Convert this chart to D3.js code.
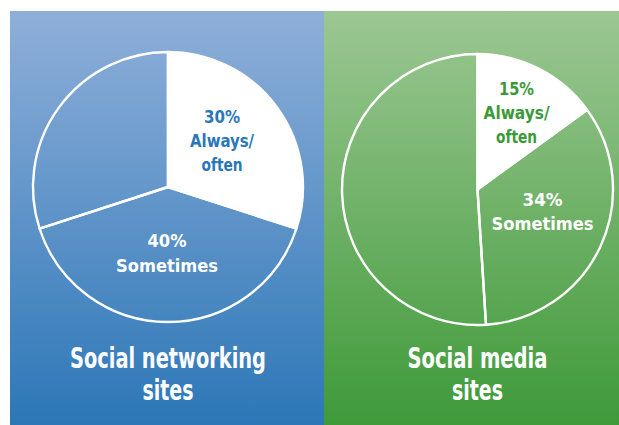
<!DOCTYPE html>
<html><head><meta charset="utf-8">
<script src="https://cdn.jsdelivr.net/npm/d3@7"></script>
<style>html,body{margin:0;padding:0;background:#fff;}svg{display:block;}</style>
</head><body>
<svg id="chart" width="619" height="425"></svg>
<script>
// ---- data ----
const titles = [["Social networking", "sites"], ["Social media", "sites"]];
const categories = ["Always/often", "Sometimes", "Rarely/never"];
const networkingValues = [30, 40, 30];
const mediaValues = [15, 34, 51];
const alwaysLabels = [["30%", "Always/", "often"], ["15%", "Always/", "often"]];
const sometimesLabels = [["40%", "Sometimes"], ["34%", "Sometimes"]];

// ---- layout / style ----
const svg = d3.select("#chart");
const font = "'DejaVu Sans Condensed','DejaVu Sans',sans-serif";
const panels = [
  {x0: 10, x1: 324, cx: 168, cy: 187, r: 135, top: "#8fafd9", bottom: "#2c77b7", text: "#2a77b8",
   values: networkingValues, always: alwaysLabels[0], some: sometimesLabels[0], title: titles[0],
   aPos: [54, -64], sPos: [-1, 60],
   aW: [36, 64, 41], sW: [39, 102], tW: [196, 51]},
  {x0: 324, x1: 619, cx: 477.5, cy: 189.5, r: 135.5, top: "#9cc793", bottom: "#3f9a39", text: "#3a9a38",
   values: mediaValues, always: alwaysLabels[1], some: sometimesLabels[1], title: titles[1],
   aPos: [39, -95], sPos: [65, 16],
   aW: [35, 66, 41], sW: [40, 102], tW: [140, 51]}
];
const defs = svg.append("defs");
const pie = d3.pie().sort(null).value(d => d);

panels.forEach((p, i) => {
  const gid = "grad" + i;
  const g = defs.append("linearGradient").attr("id", gid).attr("x1", 0).attr("y1", 0).attr("x2", 0).attr("y2", 1);
  g.append("stop").attr("offset", "0%").attr("stop-color", p.top);
  g.append("stop").attr("offset", "100%").attr("stop-color", p.bottom);
  svg.append("rect").attr("x", p.x0).attr("y", 11).attr("width", p.x1 - p.x0).attr("height", 414)
    .attr("fill", `url(#${gid})`);

  const arc = d3.arc().innerRadius(0).outerRadius(p.r);
  const gp = svg.append("g").attr("transform", `translate(${p.cx},${p.cy})`);
  gp.selectAll("path").data(pie(p.values)).join("path")
    .attr("d", arc)
    .attr("fill", (d, j) => j === 0 ? "#fff" : "none")
    .attr("stroke", "#fff").attr("stroke-width", 2.4).attr("stroke-linejoin", "round");

  // labels
  const lineH = 24;
  p.always.forEach((t, k) => {
    gp.append("text").attr("x", p.aPos[0]).attr("y", p.aPos[1] + k * lineH)
      .attr("text-anchor", "middle").attr("font-family", font).attr("font-weight", "bold")
      .attr("font-size", 18).attr("fill", p.text)
      .attr("textLength", p.aW[k]).attr("lengthAdjust", "spacingAndGlyphs").text(t);
  });
  p.some.forEach((t, k) => {
    gp.append("text").attr("x", p.sPos[0]).attr("y", p.sPos[1] + k * 24.5)
      .attr("text-anchor", "middle").attr("font-family", font).attr("font-weight", "bold")
      .attr("font-size", 18).attr("fill", "#fff")
      .attr("textLength", p.sW[k]).attr("lengthAdjust", "spacingAndGlyphs").text(t);
  });
  p.title.forEach((t, k) => {
    svg.append("text").attr("x", p.cx).attr("y", 367.5 + k * 32.5)
      .attr("text-anchor", "middle").attr("font-family", font).attr("font-weight", "bold")
      .attr("font-size", 28).attr("fill", "#fff")
      .attr("textLength", p.tW[k]).attr("lengthAdjust", "spacingAndGlyphs").text(t);
  });
});
</script>
</body></html>
